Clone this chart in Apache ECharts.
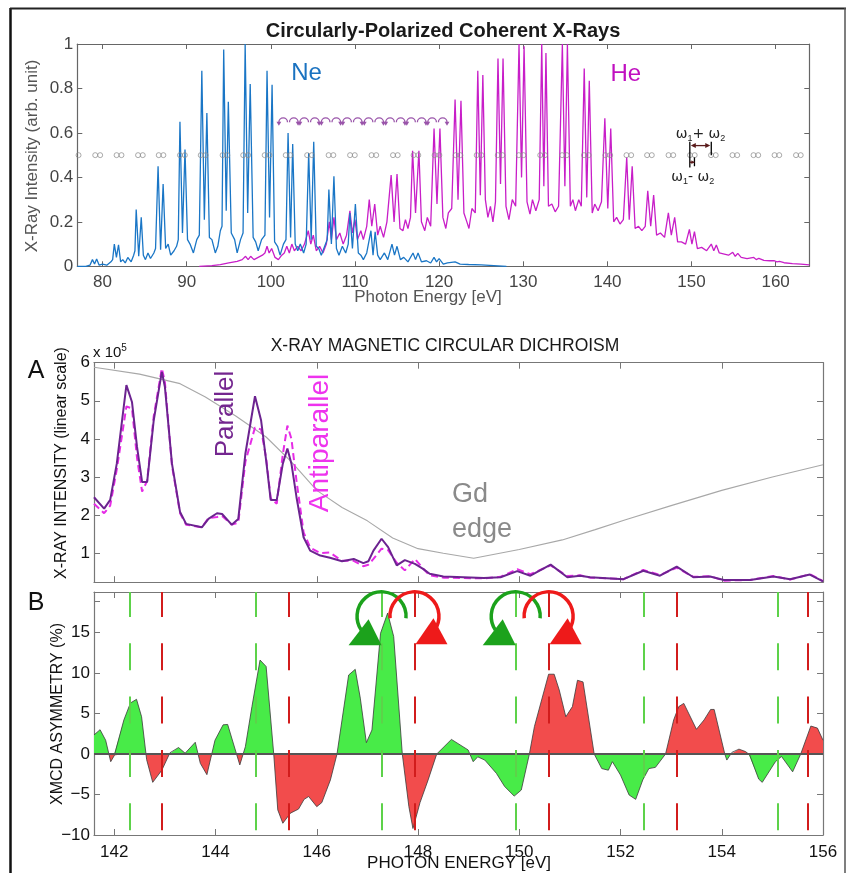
<!DOCTYPE html>
<html><head><meta charset="utf-8">
<script src="https://cdn.jsdelivr.net/npm/echarts@6/dist/echarts.min.js"></script>
<style>html,body{margin:0;padding:0;background:#fff}#c{width:847px;height:873px}</style>
</head><body><div id="c"></div><script>
// ---------------- DATA ----------------
// Top panel: harmonic spectra [photon energy eV, intensity]
const neSpectrum = [
[77,0],[78,0],[78.5,0.005],[78.8,0.03],[79.05,0.01],[79.3,0.033],[79.6,0.005],[80,0.01],[80.5,0.005],[81,0.02],[81.2,0.03],
[81.4,0.10],[81.65,0.04],[81.9,0.097],[82.15,0.02],[82.4,0.03],[82.7,0.015],[83.0,0.04],[83.4,0.02],[83.7,0.05],[83.85,0.07],
[84.0,0.255],[84.3,0.045],[84.6,0.22],[84.85,0.05],[85.1,0.03],[85.4,0.06],[85.7,0.035],[86.1,0.06],[86.3,0.08],
[86.6,0.45],[86.9,0.075],[87.2,0.37],[87.5,0.08],[87.8,0.1],[88.1,0.05],[88.5,0.07],[88.8,0.09],[89.0,0.12],
[89.2,0.65],[89.5,0.15],[89.8,0.525],[90.1,0.12],[90.4,0.1],[90.8,0.06],[91.2,0.12],[91.5,0.14],
[91.8,0.88],[92.1,0.21],[92.4,0.69],[92.7,0.13],[93.0,0.12],[93.4,0.06],[93.7,0.09],[94.0,0.16],[94.2,0.18],
[94.4,0.975],[94.7,0.25],[94.95,0.74],[95.3,0.15],[95.7,0.12],[96.0,0.06],[96.4,0.12],[96.7,0.15],
[96.95,1.0],[97.25,0.24],[97.55,0.82],[97.9,0.13],[98.2,0.11],[98.5,0.07],[98.9,0.12],[99.3,0.14],
[99.55,0.88],[99.85,0.22],[100.15,0.817],[100.45,0.11],[100.8,0.09],[101.1,0.05],[101.5,0.1],[101.8,0.12],
[102.05,0.60],[102.35,0.13],[102.6,0.55],[102.9,0.1],[103.2,0.07],[103.5,0.1],[103.9,0.06],[104.2,0.1],
[104.5,0.51],[104.8,0.12],[105.1,0.56],[105.4,0.09],[105.7,0.08],[106.0,0.05],[106.4,0.09],[106.7,0.12],
[106.9,0.345],[107.2,0.1],[107.5,0.405],[107.8,0.08],[108.1,0.05],[108.5,0.09],[108.9,0.06],[109.2,0.1],
[109.4,0.24],[109.7,0.08],[110.05,0.28],[110.4,0.06],[110.7,0.05],[111.0,0.03],[111.4,0.06],
[111.9,0.16],[112.15,0.05],[112.4,0.155],[112.7,0.05],[113.0,0.03],[113.5,0.06],[113.9,0.03],
[114.4,0.1],[114.7,0.05],[115.0,0.09],[115.4,0.03],[115.8,0.04],[116.3,0.02],[116.9,0.06],[117.2,0.03],[117.5,0.06],
[117.9,0.02],[118.5,0.025],[119.0,0.015],[119.4,0.04],[119.7,0.02],[120.0,0.035],[120.5,0.01],[121.0,0.015],
[121.9,0.02],[122.5,0.01],[123.5,0.008],[125,0.006],[126.5,0.003],[128,0]
];
const heSpectrum = [
[91.5,0],[93,0.003],[94,0.008],[95,0.015],[96,0.022],[96.6,0.03],[97.0,0.045],[97.3,0.03],[97.6,0.045],[98.0,0.03],
[98.5,0.04],[99.0,0.05],[99.3,0.06],[99.55,0.09],[99.8,0.06],[100.1,0.08],[100.5,0.04],[100.9,0.03],[101.3,0.05],
[101.6,0.06],[101.9,0.09],[102.2,0.06],[102.5,0.1],[102.8,0.07],[103.2,0.09],[103.6,0.07],[104.0,0.1],
[104.45,0.16],[104.75,0.1],[105.05,0.14],[105.4,0.07],[105.8,0.09],[106.2,0.06],[106.6,0.1],
[106.95,0.2],[107.2,0.12],[107.5,0.22],[107.8,0.12],[108.2,0.15],[108.6,0.1],[109.0,0.14],
[109.4,0.25],[109.7,0.15],[110.0,0.21],[110.3,0.12],[110.7,0.16],[111.0,0.12],[111.4,0.18],
[111.7,0.30],[112.0,0.18],[112.35,0.28],[112.7,0.14],[113.0,0.18],[113.4,0.13],[113.8,0.2],
[114.3,0.41],[114.65,0.2],[115.0,0.415],[115.35,0.17],[115.7,0.16],[116.0,0.21],[116.3,0.17],[116.6,0.22],
[116.85,0.52],[117.2,0.24],[117.6,0.52],[117.9,0.2],[118.3,0.16],[118.6,0.22],[119.0,0.18],
[119.4,0.62],[119.75,0.28],[120.1,0.62],[120.45,0.22],[120.8,0.17],[121.1,0.24],[121.5,0.26],
[121.9,0.75],[122.25,0.3],[122.6,0.745],[122.95,0.24],[123.3,0.2],[123.55,0.17],[123.9,0.26],[124.3,0.24],
[124.6,0.88],[124.9,0.32],[125.2,0.86],[125.5,0.3],[125.8,0.22],[126.1,0.27],[126.4,0.2],[126.7,0.29],
[127.0,0.935],[127.3,0.37],[127.6,0.935],[127.95,0.27],[128.3,0.21],[128.7,0.3],[129.1,0.27],
[129.5,1.0],[129.8,0.4],[130.1,0.99],[130.45,0.29],[130.8,0.235],[131.1,0.3],[131.5,0.25],[131.9,0.3],
[132.2,1.0],[132.45,0.36],[132.7,0.96],[133.0,0.27],[133.4,0.28],[133.8,0.245],[134.2,0.27],
[134.65,1.0],[134.95,0.36],[135.25,1.0],[135.6,0.27],[135.9,0.3],[136.2,0.25],[136.6,0.3],[136.9,0.27],
[137.25,0.89],[137.55,0.31],[137.85,0.835],[138.2,0.24],[138.5,0.28],[138.9,0.25],[139.3,0.29],
[139.7,0.666],[140.05,0.26],[140.4,0.62],[140.75,0.2],[141.1,0.22],[141.5,0.19],[141.9,0.21],
[142.3,0.49],[142.6,0.21],[142.95,0.45],[143.3,0.17],[143.7,0.18],[144.1,0.16],[144.5,0.18],
[144.8,0.34],[145.15,0.18],[145.5,0.32],[145.85,0.14],[146.3,0.15],[146.8,0.13],
[147.25,0.24],[147.6,0.14],[148.0,0.22],[148.35,0.11],[148.8,0.11],[149.3,0.1],
[149.75,0.166],[150.05,0.1],[150.35,0.156],[150.7,0.08],[151.2,0.085],[151.8,0.07],
[152.35,0.1],[152.65,0.07],[152.95,0.096],[153.3,0.06],[153.9,0.055],[154.4,0.05],
[154.9,0.063],[155.2,0.045],[155.5,0.058],[155.9,0.04],[156.6,0.035],[157.4,0.04],[157.7,0.03],[158.0,0.036],
[158.6,0.027],[159.3,0.025],[159.85,0.025],[160.15,0.02],[160.45,0.022],[161,0.016],[162,0.012],[163,0.01],[164,0.006]
];
// grey circle markers at intensity 0.5 (harmonic positions)
const circleEV = [77.15,79.13,79.72,81.67,82.25,84.22,84.78,86.68,87.23,89.2,89.78,91.67,92.25,94.27,94.83,96.72,97.3,
99.27,99.83,101.77,102.33,104.32,104.88,106.87,107.43,109.42,109.98,111.97,112.53,114.52,115.08,116.97,117.53,
119.47,120.03,121.97,122.53,124.47,125.03,126.97,127.53,129.47,130.03,132.02,132.58,134.62,135.18,137.22,137.78,
139.77,140.33,142.27,142.83,144.72,145.28,147.27,147.83,149.82,150.38,152.32,152.88,154.87,155.43,157.37,157.93,
159.87,160.43,162.42,162.98];
const circleLevel = 0.5;
const swirlEV = [102.1,104.6,107.15,109.7,112.25,114.8,117.3,119.8];
const swirlLevel = 0.657;
const topXTicks = [80,90,100,110,120,130,140,150,160];
const topYTicks = [0,0.2,0.4,0.6,0.8,1];

// Panel A: XMCD intensities (x 1e5)
const parallel = [
[141.6,2.47],[141.8,2.17],[141.92,2.4],[142.05,3.35],[142.24,5.41],[142.35,4.97],[142.45,3.79],[142.55,2.87],[142.65,2.87],
[142.78,4.49],[142.94,5.76],[143.0,5.37],[143.14,3.35],[143.3,2.08],[143.42,1.77],[143.73,1.68],[143.86,1.9],[144.03,2.05],
[144.13,2.03],[144.32,1.75],[144.45,1.9],[144.59,3.61],[144.78,5.12],[144.9,4.49],[145.0,3.44],[145.09,2.4],[145.21,2.4],
[145.33,3.35],[145.42,3.75],[145.5,3.35],[145.6,2.47],[145.74,1.42],[145.87,1.07],[146.07,0.94],[146.26,0.88],[146.5,0.79],
[146.73,0.85],[146.92,0.74],[147.02,0.79],[147.12,1.07],[147.28,1.38],[147.41,1.16],[147.58,0.68],[147.74,0.82],[147.94,0.72],
[148.1,0.59],[148.23,0.46],[148.5,0.39],[148.9,0.37],[149.3,0.35],[149.63,0.37],[149.96,0.53],[150.22,0.41],[150.62,0.7],
[150.95,0.37],[151.2,0.41],[151.4,0.37],[152.06,0.32],[152.45,0.54],[152.78,0.41],[153.11,0.65],[153.44,0.37],[153.77,0.39],
[154.04,0.3],[154.56,0.3],[155.02,0.39],[155.35,0.32],[155.74,0.44],[156.0,0.26]
];
const antiparallel = [
[141.6,2.3],[141.8,2.05],[141.92,2.25],[142.05,3.2],[142.24,4.85],[142.35,4.8],[142.45,3.5],[142.55,2.62],[142.65,2.9],
[142.78,4.6],[142.94,5.85],[143.0,5.5],[143.14,3.3],[143.3,2.05],[143.42,1.75],[143.73,1.68],[143.86,1.92],[144.03,1.95],
[144.13,1.98],[144.32,1.75],[144.45,1.8],[144.59,3.4],[144.78,4.3],[144.9,4.25],[145.0,3.5],[145.09,2.45],[145.21,2.3],
[145.33,3.6],[145.42,4.35],[145.5,4.0],[145.6,2.9],[145.74,1.55],[145.87,1.15],[146.07,1.0],[146.26,1.02],[146.5,0.8],
[146.73,0.8],[146.92,0.66],[147.02,0.7],[147.12,0.85],[147.28,1.12],[147.41,1.08],[147.58,0.75],[147.74,0.55],[147.94,0.85],
[148.1,0.6],[148.23,0.42],[148.5,0.36],[148.9,0.35],[149.3,0.34],[149.63,0.38],[149.96,0.58],[150.22,0.45],[150.62,0.68],
[150.95,0.4],[151.2,0.42],[151.4,0.36],[152.06,0.32],[152.45,0.56],[152.78,0.43],[153.11,0.62],[153.44,0.38],[153.77,0.4],
[154.04,0.28],[154.56,0.3],[155.02,0.4],[155.35,0.31],[155.74,0.45],[156.0,0.27]
];
const gdEdge = [
[141.6,5.88],[142.5,5.7],[143.3,5.45],[143.8,5.1],[144.4,4.6],[145.0,4.05],[145.5,3.4],[146.0,2.65],[146.5,2.2],
[147.0,1.85],[147.5,1.4],[148.0,1.12],[148.5,1.0],[149.1,0.87],[150.0,1.1],[150.85,1.35],[151.5,1.62],[152.1,1.88],
[153.0,2.25],[154.0,2.65],[155.0,3.0],[156.0,3.32]
];
// Panel B: XMCD asymmetry (%)
const asymmetry = [
[141.6,2.35],[141.72,3.0],[141.83,1.7],[141.93,-0.95],[142.0,-0.2],[142.19,4.2],[142.32,6.3],[142.44,6.75],[142.54,4.6],
[142.64,-0.7],[142.76,-3.5],[142.94,-2.0],[143.1,0.15],[143.27,0.8],[143.4,0.1],[143.6,1.45],[143.7,-1.15],[143.83,-2.55],
[143.99,1.7],[144.15,3.6],[144.24,3.65],[144.48,-1.35],[144.59,0.9],[144.72,5.85],[144.88,11.6],[145.0,10.8],[145.15,0],
[145.23,-6.9],[145.33,-8.55],[145.48,-7.3],[145.64,-6.8],[145.75,-5.6],[145.84,-5.25],[146.0,-6.5],[146.1,-6.0],[146.27,-3.2],
[146.4,0],[146.63,9.75],[146.76,10.45],[146.86,6.9],[146.98,1.4],[147.09,2.96],[147.26,14.9],[147.4,17.4],[147.52,14.5],
[147.69,0],[147.82,-6.5],[147.9,-9.2],[148.04,-6.0],[148.2,-3.2],[148.37,0],[148.66,1.8],[148.99,0.5],[149.09,-0.95],
[149.18,-0.35],[149.32,-0.75],[149.55,-2.4],[149.71,-4.0],[149.9,-5.2],[150.04,-4.45],[150.2,0],[150.3,3.4],[150.58,9.85],
[150.69,9.85],[150.79,7.9],[150.92,4.6],[151.05,5.85],[151.15,9.1],[151.26,8.9],[151.48,0],[151.63,-1.8],[151.76,-2.0],
[151.84,-0.95],[152.0,-2.6],[152.17,-5.06],[152.3,-5.6],[152.44,-3.2],[152.56,-1.8],[152.69,-1.65],[152.89,0],[153.05,4.2],
[153.15,5.85],[153.25,6.25],[153.5,3.05],[153.65,4.2],[153.78,5.5],[153.85,5.5],[154.06,0],[154.1,-0.75],[154.2,0.2],
[154.34,0.6],[154.47,0.3],[154.55,-0.1],[154.73,-3.1],[154.8,-3.5],[155.06,-0.95],[155.18,-0.3],[155.4,-2.2],[155.56,0],
[155.76,3.45],[155.89,3.2],[156.0,1.7]
];
const greenHarmonics = [142.3,144.8,147.28,149.93,152.46,155.1];
const redHarmonics = [142.94,145.44,147.93,150.58,153.11,155.69];
const colorFlipEV = 149.05;   // below: positive = green, above: negative = green
const bXTicks = [142,144,146,148,150,152,154,156];
const aYTicks = [1,2,3,4,5,6];
const bYTicks = [-10,-5,0,5,10,15];
const bYExtraTick = [18.9];
const helicityEV = [[147.28,147.93],[149.93,150.58]];
const helicityLevel = 17;

// ---------------- BUILD ----------------
const FONT = 'Liberation Sans, Arial, sans-serif';
function splitFill(pts, flip){
  const dense = [];
  for (let i=0;i<pts.length;i++){
    if (i>0){
      const [x0,y0]=pts[i-1],[x1,y1]=pts[i];
      if ((y0<0&&y1>0)||(y0>0&&y1<0)) dense.push([x0+(x1-x0)*(-y0)/(y1-y0),0]);
    }
    dense.push(pts[i]);
  }
  const isGreen=(x,y)=> x<flip ? y>0 : y<0;
  return {
    green: dense.map(([x,y])=>[x,(y!==0&&isGreen(x,y))?y:0]),
    red: dense.map(([x,y])=>[x,(y!==0&&!isGreen(x,y))?y:0])
  };
}
const fills = splitFill(asymmetry, colorFlipEV);

const grids = [
  {left:77.3, top:44, width:732, height:222.3},
  {left:94, top:362.7, width:729, height:219.5},
  {left:94, top:592, width:729, height:243}
];
function xAx(g, min, max, ticks, pos, showLabel, color, tickLen){
  return {gridIndex:g, type:'value', min, max, position:pos,
    axisLine:{show:true,onZero:false,lineStyle:{color:color,width:1.2}},
    axisTick:{show:true,inside:true,length:tickLen,customValues:ticks,lineStyle:{color:color,width:1}},
    axisLabel:{show:showLabel,customValues:ticks,fontSize:17,fontFamily:FONT,color:g===0?'#444':'#111',margin:g===0?8:9},
    splitLine:{show:false}};
}
function yAx(g, min, max, ticks, pos, showLabel, color, tickLen, labelTicks){
  return {gridIndex:g, type:'value', min, max, position:pos,
    axisLine:{show:true,onZero:false,lineStyle:{color:color,width:1.2}},
    axisTick:{show:true,inside:true,length:tickLen,customValues:ticks,lineStyle:{color:color,width:1}},
    axisLabel:{show:showLabel,customValues:labelTicks||ticks,fontSize:17,fontFamily:FONT,color:g===0?'#444':'#111',margin:4,
      formatter:v=>String(v).replace('-','\u2212')},
    splitLine:{show:false}};
}
const xAxis = [
  xAx(0,77,164,topXTicks,'bottom',true,'#666',5),
  xAx(0,77,164,topXTicks,'top',false,'#666',5),
  xAx(1,141.6,156,bXTicks,'bottom',false,'#777',6),
  xAx(1,141.6,156,bXTicks,'top',false,'#777',6),
  xAx(2,141.6,156,bXTicks,'bottom',true,'#777',6),
  xAx(2,141.6,156,bXTicks,'top',false,'#777',6)
];
const yAxis = [
  yAx(0,0,1,topYTicks,'left',true,'#666',5),
  yAx(0,0,1,topYTicks,'right',false,'#666',5),
  yAx(1,0.24,6,aYTicks,'left',true,'#777',6),
  yAx(1,0.24,6,aYTicks,'right',false,'#777',6),
  yAx(2,-10,20,bYTicks.concat(bYExtraTick),'left',true,'#777',6,bYTicks),
  yAx(2,-10,20,bYTicks.concat(bYExtraTick),'right',false,'#777',6,bYTicks)
];

function vLine(x, color){
  return [{coord:[x,20],lineStyle:{color}},{coord:[x,-10]}];
}

const series = [
  {type:'line',xAxisIndex:0,yAxisIndex:0,data:heSpectrum,showSymbol:false,lineStyle:{color:'#c81ec8',width:1.3},z:2},
  {type:'line',xAxisIndex:0,yAxisIndex:0,data:neSpectrum,showSymbol:false,lineStyle:{color:'#1a76c6',width:1.3},z:3},
  {type:'scatter',xAxisIndex:0,yAxisIndex:0,data:circleEV.map(x=>[x,circleLevel]),symbol:'circle',symbolSize:5,
    itemStyle:{color:'rgba(255,255,255,0)',borderColor:'#8a8a8a',borderWidth:0.9},z:4},
  // Panel A
  {type:'line',xAxisIndex:2,yAxisIndex:2,data:gdEdge,showSymbol:false,lineStyle:{color:'#a8a8a8',width:1.1},z:2},
  {type:'line',xAxisIndex:2,yAxisIndex:2,data:antiparallel,showSymbol:false,lineStyle:{color:'#e62be6',width:2,type:[7,4]},z:3},
  {type:'line',xAxisIndex:2,yAxisIndex:2,data:parallel,showSymbol:false,lineStyle:{color:'#6c2390',width:2},z:4},
  // Panel B fills
  {type:'line',xAxisIndex:4,yAxisIndex:4,data:fills.green,showSymbol:false,lineStyle:{width:0,opacity:0},
    areaStyle:{color:'#48eb48',opacity:1},z:2},
  {type:'line',xAxisIndex:4,yAxisIndex:4,data:fills.red,showSymbol:false,lineStyle:{width:0,opacity:0},
    areaStyle:{color:'#f24c4c',opacity:1},z:2},
  {type:'line',xAxisIndex:4,yAxisIndex:4,data:asymmetry,showSymbol:false,lineStyle:{color:'#3a3a3a',width:0.8},z:3,
    markLine:{silent:true,symbol:'none',label:{show:false},animation:false,
      lineStyle:{color:'#555',width:2.2,type:'solid'},
      data:[{yAxis:0}]}},
  {type:'line',xAxisIndex:4,yAxisIndex:4,data:[],z:4,
    markLine:{silent:true,symbol:'none',label:{show:false},animation:false,
      lineStyle:{width:2,type:[27,26.3],dashOffset:2},
      data:greenHarmonics.map(x=>vLine(x,'#5dd24a')).concat(redHarmonics.map(x=>vLine(x,'#d21c1c')))}}
];

const chart = echarts.init(document.getElementById('c'), null, {renderer:'canvas', width:847, height:873});
chart.setOption({animation:false, backgroundColor:'#fff', grid:grids, xAxis, yAxis, series});

// ---------------- ANNOTATIONS ----------------
function P(g, x, y){ return chart.convertToPixel({xAxisIndex:g*2, yAxisIndex:g*2}, [x,y]); }
const G = [];
function txt(x,y,text,size,color,opts){
  opts=opts||{};
  G.push({type:'text',x,y,rotation:opts.rot||0,z:50,
    style:{text,fontSize:size,fontFamily:opts.family||FONT,fontWeight:opts.bold?'bold':'normal',fill:color,
      align:opts.align||'center',verticalAlign:'middle',rich:opts.rich}});
}
function seg(a,b,color,w){G.push({type:'line',shape:{x1:a[0],y1:a[1],x2:b[0],y2:b[1]},style:{stroke:color,lineWidth:w},z:45});}
function tri(pts,color){G.push({type:'polygon',shape:{points:pts},style:{fill:color},z:45});}
// frame
G.push({type:'line',shape:{x1:10.5,y1:8,x2:10.5,y2:873},style:{stroke:'#111',lineWidth:2.5},z:40});
G.push({type:'line',shape:{x1:10,y1:8.5,x2:846,y2:8.5},style:{stroke:'#222',lineWidth:2},z:40});
G.push({type:'line',shape:{x1:845,y1:8,x2:845,y2:873},style:{stroke:'#555',lineWidth:1.5},z:40});
// top panel text
txt(443,31,'Circularly-Polarized Coherent X-Rays',20,'#1a1a1a',{bold:true});
txt(428,297,'Photon Energy [eV]',17,'#555');
txt(32,156,'X-Ray Intensity (arb. unit)',17,'#555',{rot:Math.PI/2});
let p = P(0,104.25,0.87); txt(p[0],p[1],'Ne',24,'#1a72c0');
p = P(0,142.2,0.865); txt(p[0],p[1],'He',24,'#c010c0');
// circular-polarisation swirl glyphs
const sc='#9a55aa';
swirlEV.forEach(x=>{
  const q=P(0,x,swirlLevel); const cx=q[0], cy=q[1]+2;
  G.push({type:'arc',shape:{cx:cx-5.3,cy:cy,r:4.3,startAngle:Math.PI,endAngle:2*Math.PI,clockwise:true},style:{stroke:sc,lineWidth:1.3,fill:null},z:45});
  G.push({type:'arc',shape:{cx:cx+5.3,cy:cy,r:4.3,startAngle:Math.PI,endAngle:2*Math.PI,clockwise:true},style:{stroke:sc,lineWidth:1.3,fill:null},z:45});
  tri([[cx-12,cy-0.5],[cx-7.2,cy-0.5],[cx-9.6,cy+3.5]],sc);
  tri([[cx+12,cy-0.5],[cx+7.2,cy-0.5],[cx+9.6,cy+3.5]],sc);
});
// omega annotation
const ac='#5a1c1c';
let a1=P(0,149.8,0.56), a2=P(0,149.8,0.445); seg(a1,a2,'#000',1.3);
a1=P(0,152.35,0.56); a2=P(0,152.35,0.50); seg(a1,a2,'#000',1.3);
a1=P(0,150.35,0.49); a2=P(0,150.35,0.45); seg(a1,a2,'#000',1.3);
a1=P(0,149.8,0.543); a2=P(0,152.35,0.543); seg([a1[0]+3,a1[1]],[a2[0]-3,a2[1]],ac,1.3);
tri([[a1[0]+1,a1[1]],[a1[0]+6,a1[1]-2.5],[a1[0]+6,a1[1]+2.5]],ac);
tri([[a2[0]-1,a2[1]],[a2[0]-6,a2[1]-2.5],[a2[0]-6,a2[1]+2.5]],ac);
a1=P(0,149.8,0.468); a2=P(0,150.35,0.468); seg(a1,a2,ac,1.5);
tri([[a2[0]-0.5,a2[1]],[a2[0]-3,a2[1]-2],[a2[0]-3,a2[1]+2]],ac);
const rich={w:{fontSize:14,fontFamily:'DejaVu Sans',fill:'#222'},s:{fontSize:9,fontFamily:FONT,fill:'#222',padding:[8,0,0,0]}};
p=P(0,151.07,0.595); txt(p[0],p[1],'{w|\u03c9}{s|1}{w|+ \u03c9}{s|2}',14,'#222',{rich});
p=P(0,150.15,0.40); txt(p[0],p[1],'{w|\u03c9}{s|1}{w|- \u03c9}{s|2}',14,'#222',{rich});
// panel A/B text
txt(445,346,'X-RAY MAGNETIC CIRCULAR DICHROISM',17.5,'#1a1a1a');
txt(36,371,'A',25,'#111');
txt(36,603,'B',25,'#111');
txt(93,353,'{a|x 10}{b|5}',15,'#111',{align:'left',rich:{a:{fontSize:15,fontFamily:FONT,fill:'#111'},b:{fontSize:10,fontFamily:FONT,fill:'#111',padding:[0,0,9,0]}}});
txt(62,463,'X-RAY INTENSITY (linear scale)',16,'#111',{rot:Math.PI/2});
txt(58,714,'XMCD ASYMMETRY (%)',16,'#111',{rot:Math.PI/2});
txt(459,863,'PHOTON ENERGY [eV]',17,'#111');
txt(226,414,'Parallel',26,'#74268f',{rot:Math.PI/2});
txt(320,443,'Antiparallel',28,'#ee33ee',{rot:Math.PI/2});
txt(452,495,'Gd',27,'#8a8a8a',{align:'left'});
txt(452,530,'edge',27,'#8a8a8a',{align:'left'});
// helicity arrows
helicityEV.forEach(([gx,rx])=>{
  const g=P(2,gx,helicityLevel), r=P(2,rx,helicityLevel);
  G.push({type:'arc',shape:{cx:g[0],cy:g[1],r:24.5,startAngle:0.08,endAngle:2.55,clockwise:false},
    style:{stroke:'#1ca21c',lineWidth:3.5,fill:null},z:46});
  tri([[g[0]-33,g[1]+29],[g[0]+0,g[1]+29],[g[0]-13,g[1]+3]],'#1ca21c');
  G.push({type:'arc',shape:{cx:r[0],cy:r[1],r:24.5,startAngle:Math.PI-0.08,endAngle:0.59,clockwise:true},
    style:{stroke:'#ee1a1a',lineWidth:3.5,fill:null},z:46});
  tri([[r[0]+33,r[1]+28],[r[0]+1,r[1]+28],[r[0]+19,r[1]+2]],'#ee1a1a');
});
chart.setOption({graphic:G});
</script></body></html>
